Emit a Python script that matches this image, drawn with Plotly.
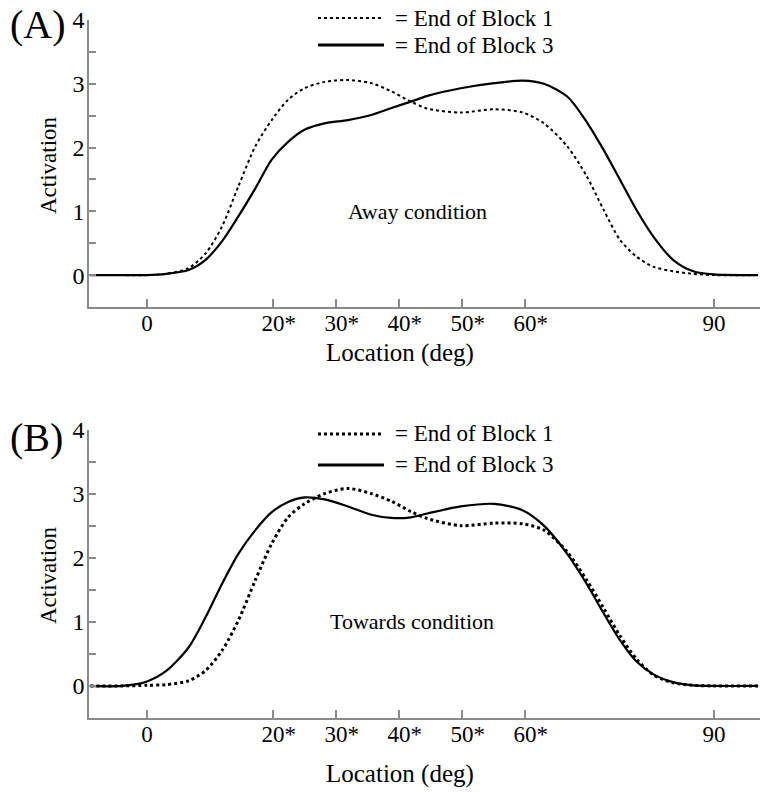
import plotly.graph_objects as go
from plotly.subplots import make_subplots

# Location (deg)
location = [-9, -4, 0, 3, 6.6, 9.3, 11.9, 14.5, 17.2, 19.8, 22.4, 25.0, 28.2, 31.9,
            35.6, 38.8, 41.9, 44.5, 49.8, 55.1, 59.6, 63.0, 66.7, 69.8, 72.5, 75.1,
            77.7, 80.4, 83.5, 86.7, 90, 97]

# Panel A: Away condition
away_block1 = [0, 0, 0, 0.02, 0.11, 0.34, 0.76, 1.39, 2.02, 2.43, 2.75, 2.93, 3.03, 3.06,
               3.01, 2.88, 2.72, 2.61, 2.55, 2.60, 2.55, 2.38, 2.02, 1.55, 1.02, 0.55,
               0.29, 0.13, 0.06, 0.02, 0, 0]
away_block3 = [0, 0, 0, 0.02, 0.08, 0.24, 0.53, 0.92, 1.36, 1.81, 2.09, 2.28, 2.38, 2.43,
               2.51, 2.62, 2.72, 2.81, 2.93, 3.01, 3.05, 3.00, 2.80, 2.40, 1.96, 1.49,
               1.02, 0.60, 0.24, 0.06, 0.01, 0]

# Panel B: Towards condition
towards_block1 = [0, 0, 0.01, 0.02, 0.08, 0.24, 0.55, 1.02, 1.65, 2.22, 2.63, 2.84, 3.00, 3.08,
                  3.00, 2.88, 2.72, 2.61, 2.50, 2.54, 2.53, 2.43, 2.09, 1.65, 1.21, 0.78,
                  0.42, 0.17, 0.05, 0.01, 0, 0]
towards_block3 = [0, 0, 0.07, 0.23, 0.60, 1.07, 1.59, 2.06, 2.43, 2.71, 2.87, 2.94, 2.91, 2.80,
                  2.67, 2.62, 2.63, 2.69, 2.80, 2.84, 2.74, 2.50, 2.06, 1.59, 1.13, 0.71,
                  0.38, 0.18, 0.06, 0.01, 0, 0]

x_tickvals = [0, 20, 30, 40, 50, 60, 90]
x_ticktext = ["0", "\u00a0\u00a020*", "\u00a0\u00a030*", "\u00a0\u00a040*",
              "\u00a0\u00a050*", "\u00a0\u00a060*", "90"]
y_tickvals = [0, 1, 2, 3, 4]

legend_labels = ["= End of Block 1", "= End of Block 3"]
panel_labels = ["(A)", "(B)"]
condition_labels = ["Away condition", "Towards condition"]
x_title = "Location (deg)"
y_title = "Activation"

FONT = "Liberation Serif, serif"
GRAY = "#8a8a8a"

W, H = 760, 792
ML, MR, MT, MB = 89, 0, 20, 74
PW, PH = W - ML - MR, H - MT - MB

def px(x):
    return (x - ML) / PW

def py(y):
    return (H - MB - y) / PH

fig = make_subplots(rows=2, cols=1, vertical_spacing=0.0)

panels = [(away_block1, away_block3, 2), (towards_block1, towards_block3, 3)]
for i, (b1, b3, dotw) in enumerate(panels):
    r = i + 1
    fig.add_trace(go.Scatter(x=location, y=b1, mode="lines", name=legend_labels[0],
                             line=dict(color="black", width=dotw, dash="dot", shape="spline", smoothing=0.8),
                             showlegend=False), row=r, col=1)
    fig.add_trace(go.Scatter(x=location, y=b3, mode="lines", name=legend_labels[1],
                             line=dict(color="black", width=2.2, shape="spline", smoothing=0.8),
                             showlegend=False), row=r, col=1)

axis_common_x = dict(range=[-9.2, 97.3], tickvals=x_tickvals, ticktext=x_ticktext,
                     ticks="inside", ticklen=8, tickcolor=GRAY, tickwidth=1.5,
                     showline=True, linecolor=GRAY, linewidth=1.5, showgrid=False, zeroline=False,
                     tickfont=dict(family=FONT, size=23, color="black"), ticklabelstandoff=-5)
axis_common_y = dict(range=[-0.5, 4], tickvals=y_tickvals,
                     ticks="inside", ticklen=7, tickcolor=GRAY, tickwidth=1.5,
                     minor=dict(dtick=0.5, tick0=0, ticks="inside", ticklen=7, tickcolor=GRAY, tickwidth=1.5, showgrid=False),
                     showline=True, linecolor=GRAY, linewidth=1.5, showgrid=False, zeroline=False,
                     ticklabeloverflow="allow",
                     tickfont=dict(family=FONT, size=24, color="black"), ticklabelstandoff=-2)

fig.update_xaxes(**axis_common_x)
fig.update_yaxes(**axis_common_y)

fig.update_layout(
    yaxis=dict(domain=[py(307), 1.0]),
    yaxis2=dict(domain=[0.0, py(429.5)]),
)

shapes = []
annotations = []
legend_rows = [[(318, 384, 18), (318, 384, 45)], [(318, 384, 434), (318, 384, 465)]]
text_x = [393, 393]
dot_widths = [2, 3]
for i in range(2):
    (d0, d1, dy), (s0, s1, sy) = legend_rows[i]
    shapes.append(dict(type="line", xref="paper", yref="paper", x0=px(d0), x1=px(d1), y0=py(dy), y1=py(dy),
                       line=dict(color="black", width=dot_widths[i], dash="dot")))
    shapes.append(dict(type="line", xref="paper", yref="paper", x0=px(s0), x1=px(s1), y0=py(sy), y1=py(sy),
                       line=dict(color="black", width=3)))
    for txt, yy in [(legend_labels[0], dy), (legend_labels[1], sy)]:
        annotations.append(dict(text=txt, xref="paper", yref="paper", x=px(text_x[i]), y=py(yy),
                                xanchor="left", yanchor="middle", showarrow=False,
                                font=dict(family=FONT, size=23, color="black")))

for lab, yy in zip(panel_labels, [25, 437]):
    annotations.append(dict(text=lab, xref="paper", yref="paper", x=px(8), y=py(yy),
                            xanchor="left", yanchor="middle", showarrow=False,
                            font=dict(family=FONT, size=40, color="black")))

for yy in [353, 774]:
    annotations.append(dict(text=x_title, xref="paper", yref="paper", x=px(400), y=py(yy),
                            xanchor="center", yanchor="middle", showarrow=False,
                            font=dict(family=FONT, size=25, color="black")))
for yy in [165, 575]:
    annotations.append(dict(text=y_title, xref="paper", yref="paper", x=px(48), y=py(yy),
                            xanchor="center", yanchor="middle", showarrow=False, textangle=-90,
                            font=dict(family=FONT, size=23, color="black")))

annotations.append(dict(text=condition_labels[0], xref="x", yref="y", x=43.0, y=1.0,
                        xanchor="center", yanchor="middle", showarrow=False,
                        font=dict(family=FONT, size=22, color="black")))
annotations.append(dict(text=condition_labels[1], xref="x2", yref="y2", x=42.0, y=1.0,
                        xanchor="center", yanchor="middle", showarrow=False,
                        font=dict(family=FONT, size=22, color="black")))

fig.update_layout(width=W, height=H, margin=dict(l=ML, r=MR, t=MT, b=MB),
                  paper_bgcolor="white", plot_bgcolor="white",
                  shapes=shapes, annotations=annotations, showlegend=False)

fig.write_html("out.html")
